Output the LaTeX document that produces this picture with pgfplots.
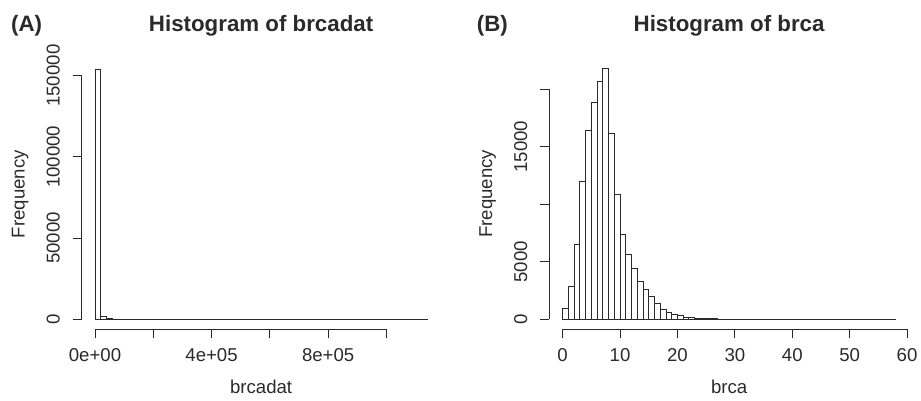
\documentclass[border=0pt]{standalone}
\usepackage{pgfplots}
\pgfplotsset{compat=1.18}
\usepackage{fontspec}
\setmainfont{Liberation Sans}
\definecolor{ink}{HTML}{2A2A2A}
\newcommand{\tickfont}{\fontsize{18.6}{22}\selectfont}
\newcommand{\titlefont}{\bfseries\fontsize{22.3}{26}\selectfont}
\pgfplotsset{
  rstyle/.style={
    scale only axis, anchor=south west, clip=false,
    axis lines*=left, axis line style={draw=none},
    tick align=outside, major tick length=9pt,
    tick style={ink, line width=0.9pt},
    /pgf/number format/assume math mode=true,
    scaled ticks=false,
    ticklabel style={font=\tickfont, text=ink},
    yticklabel style={rotate=90, anchor=south, inner sep=0pt},
    xticklabel style={anchor=north, inner sep=0pt},
    yticklabel shift=12.7pt,
    xticklabel shift=10.2pt,
    label style={font=\tickfont, text=ink},
    xlabel style={at={(axis description cs:0.5,-0.1876)}, anchor=north, inner sep=0pt},
    ylabel style={at={(axis description cs:-0.195,0.5)}, anchor=north, inner sep=0pt},
  },
  rbar/.style={ybar interval, fill=white, draw=ink, line width=0.9pt},
  raxis/.style={ink, line width=0.9pt, no marks, forget plot},
}
\begin{document}
\begin{tikzpicture}
\path[use as bounding box] (0,0) rectangle (921pt,400pt);
\node[anchor=base west, inner sep=0pt, font=\titlefont, text=ink] at (11pt,368.3pt) {(A)};
\node[anchor=base west, inner sep=0pt, font=\titlefont, text=ink] at (476.7pt,368.3pt) {(B)};
\node[anchor=base, inner sep=0pt, font=\titlefont, text=ink] at (261.1pt,368.3pt) {Histogram of brcadat};
\node[anchor=base, inner sep=0pt, font=\titlefont, text=ink] at (729.1pt,368.3pt) {Histogram of brca};
\begin{axis}[rstyle,
  at={(81.7pt,70.7pt)}, width=358.8pt, height=270.3pt,
  xmin=-45600, xmax=1185600, ymin=-6164, ymax=160264,
  xtick={0,200000,400000,600000,800000,1000000},
  xticklabels={0e+00,,4e+05,,8e+05,},
  ytick={0,50000,100000,150000},
  yticklabels={0,50000,100000,150000},
  xlabel={brcadat}, ylabel={Frequency}]
\addplot[raxis] coordinates {(0,-6164) (1000000,-6164)};
\addplot[raxis] coordinates {(-45600,0) (-45600,150000)};
\addplot[rbar] coordinates {
(0,154100) (20000,1700) (40000,300) (60000,80) (80000,30) (100000,15)
(120000,8) (140000,5) (160000,3) (180000,2) (200000,2) (220000,1)
(240000,1) (260000,1) (280000,0) (300000,0) (320000,0) (340000,0)
(360000,0) (380000,0) (400000,0) (420000,0) (440000,0) (460000,0)
(480000,0) (500000,0) (520000,0) (540000,0) (560000,0) (580000,0)
(600000,0) (620000,0) (640000,0) (660000,0) (680000,0) (700000,0)
(720000,0) (740000,0) (760000,0) (780000,0) (800000,0) (820000,0)
(840000,0) (860000,0) (880000,0) (900000,0) (920000,0) (940000,0)
(960000,0) (980000,0) (1000000,0) (1020000,0) (1040000,0) (1060000,0)
(1080000,0) (1100000,0) (1120000,1) (1140000,1)};
\end{axis}
\begin{axis}[rstyle,
  at={(549.3pt,70.7pt)}, width=359.6pt, height=270.7pt,
  xmin=-2.32, xmax=60.32, ymin=-872, ymax=22672,
  xtick={0,10,20,30,40,50,60},
  xticklabels={0,10,20,30,40,50,60},
  ytick={0,5000,10000,15000,20000},
  yticklabels={0,5000,,15000,},
  xlabel={brca}, ylabel={Frequency}]
\addplot[raxis] coordinates {(0,-872) (60,-872)};
\addplot[raxis] coordinates {(-2.32,0) (-2.32,20000)};
\addplot[rbar] coordinates {
(0,900) (1,2870) (2,6530) (3,11980) (4,16450) (5,18880) (6,20650) (7,21810)
(8,16170) (9,10850) (10,7350) (11,5680) (12,4450) (13,3320) (14,2610)
(15,1950) (16,1360) (17,880) (18,590) (19,430) (20,290) (21,200) (22,140)
(23,90) (24,60) (25,40) (26,30) (27,20) (28,15) (29,10) (30,8) (31,5)
(32,4) (33,3) (34,2) (35,1) (36,1) (37,1) (38,0) (39,1) (40,0) (41,0)
(42,0) (43,0) (44,0) (45,0) (46,0) (47,0) (48,0) (49,0) (50,0) (51,0)
(52,0) (53,0) (54,0) (55,0) (56,0) (57,1) (58,1)};
\end{axis}
\end{tikzpicture}
\end{document}
